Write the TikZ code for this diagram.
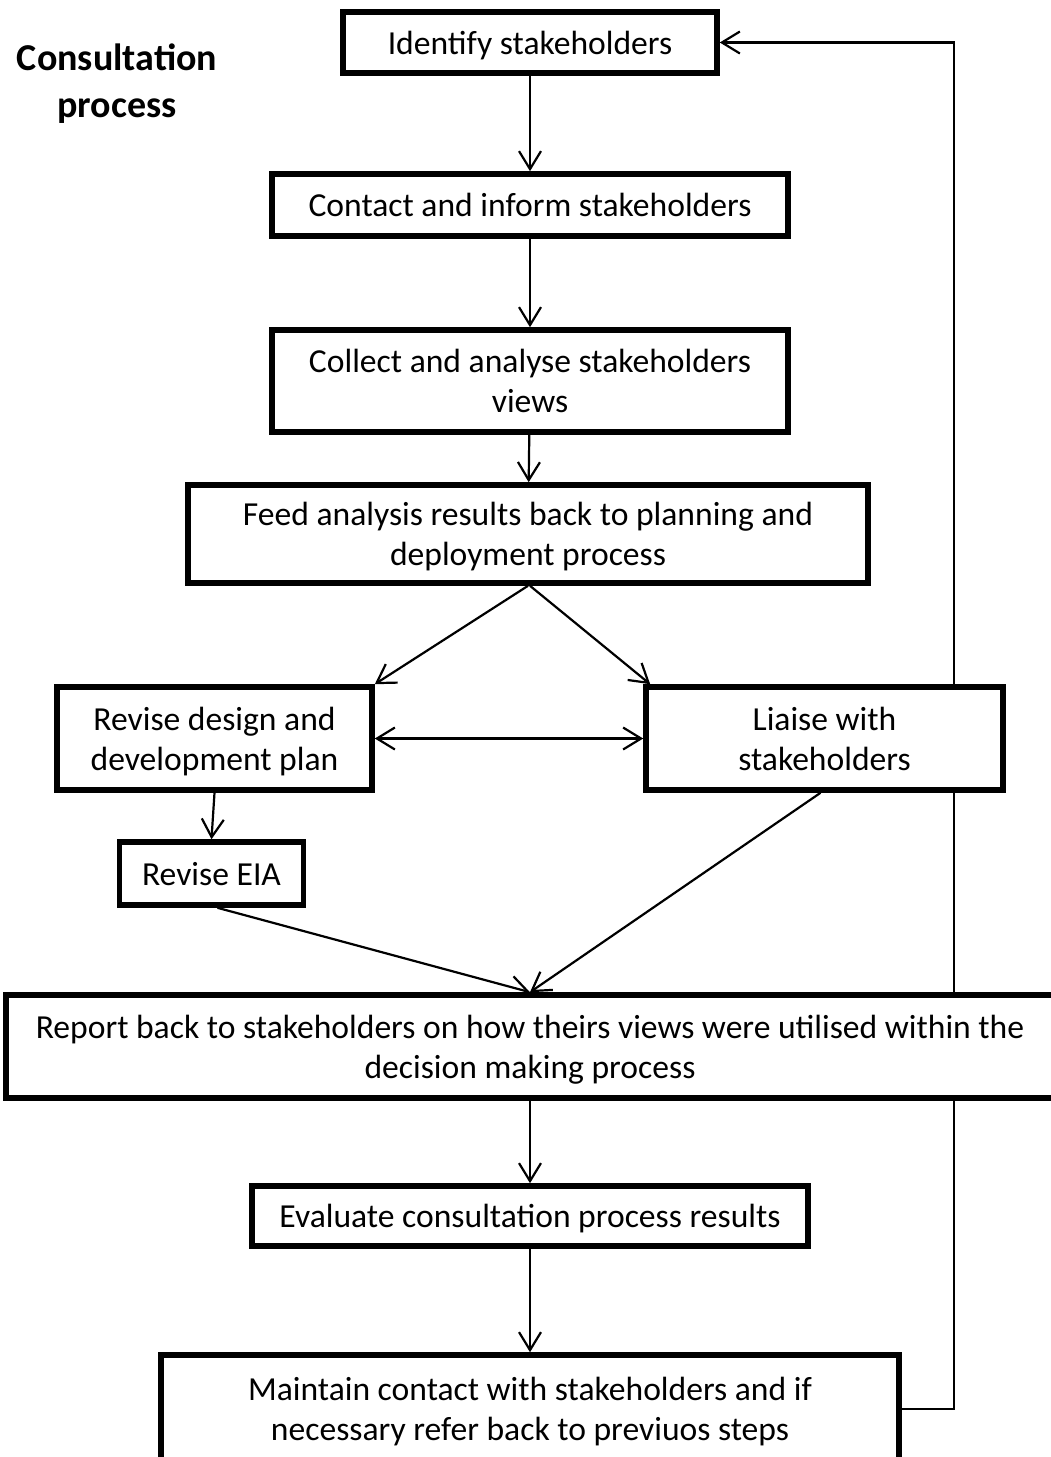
\documentclass[tikz,border=0pt]{standalone}
\usepackage{fontspec}
\setmainfont{Carlito}
\usetikzlibrary{arrows.meta, positioning, calc, backgrounds}
\tikzset{
  stage/.style={draw, line width=2.8pt, align=center, inner sep=0pt, text depth=0pt, fill=white},
  arrow/.style={-{Straight Barb[length=9pt, width=11pt]}, line width=1.1pt},
  twoway/.style={{Straight Barb[length=9pt, width=11pt]}-{Straight Barb[length=9pt, width=11pt]}, line width=1.1pt},
  heading/.style={align=center, font=\fontsize{19}{23.5}\selectfont\bfseries},
  every node/.style={font=\fontsize{16.8}{20}\selectfont}
}

\begin{document}
\begin{tikzpicture}[x=0.5pt, y=-0.5pt]
    \useasboundingbox (0,0) rectangle (1050,1457);

    \node[heading] (title) at (117,84) {Consultation\\process};

    % main chain
    \node[stage, minimum width=187pt, minimum height=30.5pt] (ident) at (530,42.5) {Identify stakeholders};
    \node[stage, minimum width=258pt, minimum height=31pt] (contact) at (530,205) {Contact and inform stakeholders};
    \node[stage, minimum width=258pt, minimum height=51pt] (collect) at (530,381) {Collect and analyse stakeholders\\views};
    \node[stage, minimum width=340pt, minimum height=49pt] (feed) at (528,534) {Feed analysis results back to planning and\\deployment process};
    \node[stage, minimum width=157.5pt, minimum height=51.5pt] (design) at (214.5,738.5) {Revise design and\\development plan};
    \node[stage, minimum width=178.5pt, minimum height=51.5pt] (liaise) at (824.5,738.5) {Liaise with\\stakeholders};
    \node[stage, minimum width=92pt, minimum height=31.5pt] (eia) at (211.5,873.5) {Revise EIA};
    \node[stage, minimum width=530pt, minimum height=51.5pt] (report) at (536,1046.5) {\hspace*{-6pt}Report back to stakeholders on how theirs views were utilised within the\\\hspace*{-6pt}decision making process};
    \node[stage, minimum width=278pt, minimum height=30pt] (eval) at (530,1216) {Evaluate consultation process results};
    \node[stage, minimum width=369pt, minimum height=54pt] (maint) at (530,1409) {Maintain contact with stakeholders and if\\necessary refer back to previuos steps};

    \begin{scope}[on background layer]
    \draw[arrow] (ident) -- (contact);
    \draw[arrow] (contact) -- (collect);
    \draw[arrow] (collect) -- (feed);
    \draw[arrow] (feed.south) -- (design.north east);
    \draw[arrow] ($(feed.south)+(2,0)$) -- ($(liaise.north west)+(7,0)$);
    \draw[twoway] (design) -- (liaise);
    \draw[arrow] (design.south) -- (eia.north);
    \draw[arrow] ($(eia.south)+(6,0)$) -- ($(report.north)+(-6,0)$);
    \draw[arrow] ($(liaise.south)+(-4,0)$) -- ($(report.north)+(-6,0)$);
    \draw[arrow] (report.south -| eval.north) -- (eval);
    \draw[arrow] (eval) -- (maint);

    % loop back to the start
    \draw[arrow] (maint.east) -- ++(52,0) |- (ident.east);
    \end{scope}
\end{tikzpicture}
\end{document}
